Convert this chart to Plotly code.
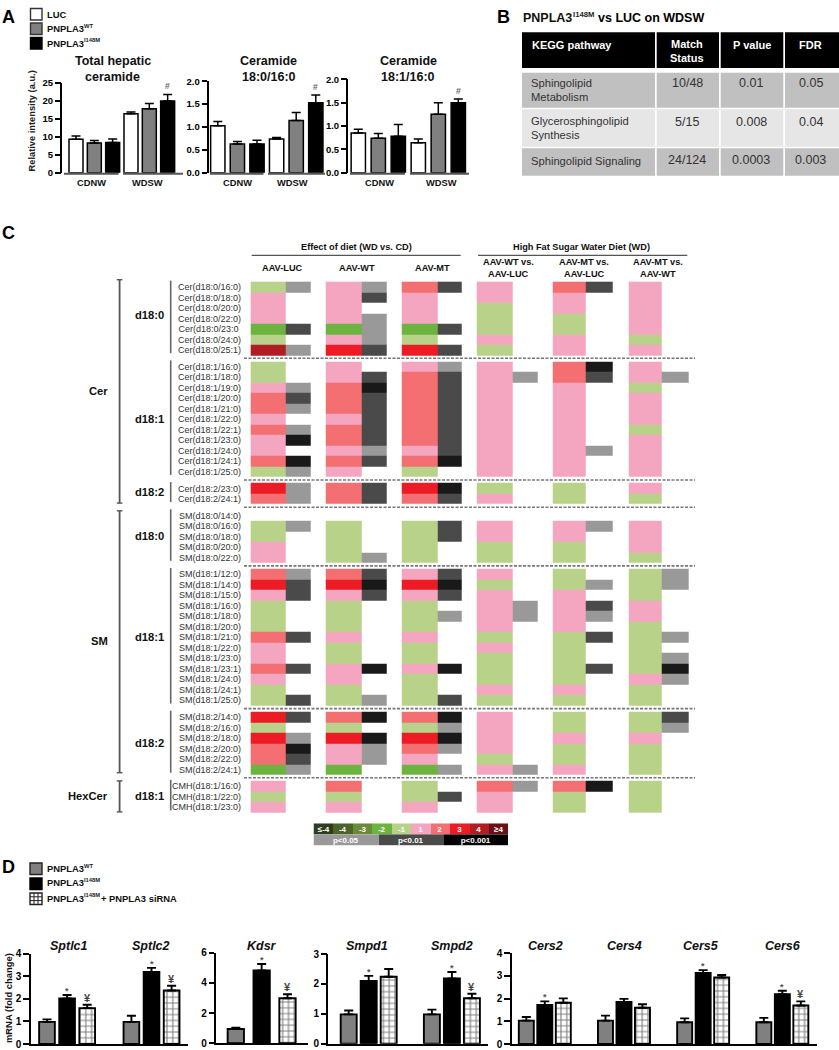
import plotly.graph_objects as go

W, H = 839, 1050
FONT = "Liberation Sans"

# ---------- Panel A data ----------
A_TITLES = [["Total hepatic", "ceramide"], ["Ceramide", "18:0/16:0"], ["Ceramide", "18:1/16:0"]]
A_GROUPS = ["CDNW", "WDSW"]
total_vals = [9.3, 8.3, 8.4, 16.4, 17.8, 20.0]
total_errs = [0.9, 0.7, 1.0, 0.5, 1.5, 1.8]
c160_vals = [1.03, 0.63, 0.63, 0.74, 1.14, 1.53]
c160_errs = [0.09, 0.05, 0.08, 0.03, 0.18, 0.17]
c161_vals = [0.85, 0.74, 0.78, 0.64, 1.25, 1.50]
c161_errs = [0.08, 0.10, 0.25, 0.08, 0.25, 0.08]

# ---------- Panel B data ----------
B_HEAD = ["KEGG pathway", "Match|Status", "P value", "FDR"]
B_PATHWAYS = ["Sphingolipid|Metabolism", "Glycerosphingolipid|Synthesis", "Sphingolipid Signaling"]
B_MATCH = ["10/48", "5/15", "24/124"]
B_P = ["0.01", "0.008", "0.0003"]
B_FDR = ["0.05", "0.04", "0.003"]

# ---------- Panel C data ----------
cer180 = ["16:0", "18:0", "20:0", "22:0", "23:0", "24:0", "25:1"]
cer181 = ["16:0", "18:0", "19:0", "20:0", "21:0", "22:0", "22:1", "23:0", "24:0", "24:1", "25:0"]
cer182 = ["23:0", "24:1"]
sm180 = ["14:0", "16:0", "18:0", "20:0", "22:0"]
sm181 = ["12:0", "14:0", "15:0", "16:0", "18:0", "20:0", "21:0", "22:0", "23:0", "23:1", "24:0", "24:1", "25:0"]
sm182 = ["14:0", "16:0", "18:0", "20:0", "22:0", "24:1"]
cmh181 = ["16:0", "22:0", "23:0"]
C_GROUPS = [("Cer", "d18:0", cer180), ("Cer", "d18:1", cer181), ("Cer", "d18:2", cer182),
            ("SM", "d18:0", sm180), ("SM", "d18:1", sm181), ("SM", "d18:2", sm182),
            ("CMH", "d18:1", cmh181)]
# effect codes -5..5 (0 = no data), significance 0 none, 1 p<0.05, 2 p<0.01, 3 p<0.001
luc_effect = [-1,1,1,1,-2,-1,4, -1,-1,1,2,2,1,2,1,1,2,-1, 3,2, 0,-1,-1,1,1,
              2,3,1,-1,-1,-1,2,1,1,2,1,-1,-1, 3,-1,3,2,2,-2, 1,-1,1]
luc_sig = [1,0,0,0,2,0,1, 0,0,1,2,1,0,1,3,0,3,1, 1,1, 0,1,0,0,0,
           1,2,2,0,0,0,2,0,0,2,0,0,2, 2,0,1,3,2,1, 0,0,0]
wt_effect = [1,1,1,1,-2,1,3, 1,1,2,2,2,1,2,2,1,2,1, 2,2, 0,-1,-1,-1,-1,
             2,3,1,-1,-1,-1,1,-1,-1,1,1,-1,-1, 2,-1,3,1,1,-2, 2,-1,1]
wt_sig = [1,2,0,1,1,1,2, 0,2,3,2,2,2,2,2,1,2,0, 2,2, 0,0,0,0,1,
          2,3,2,0,0,0,0,0,0,3,0,0,1, 3,0,3,1,1,0, 0,0,0]
mt_effect = [2,1,1,1,-2,-1,3, 1,2,2,2,2,2,2,2,1,2,-1, 3,2, 0,-1,-1,-1,-1,
             1,3,1,-1,-1,-1,1,-1,-1,1,-1,-1,-1, 2,-1,3,2,1,-2, -1,-1,1]
mt_sig = [2,0,0,0,2,0,2, 1,2,2,2,2,2,2,2,2,3,0, 3,2, 0,2,2,0,0,
          2,3,2,0,1,0,0,0,0,3,0,0,2, 3,1,3,1,0,1, 0,2,0]
wtluc_effect = [1,1,-1,-1,-1,1,-1, 1,1,1,1,1,1,1,1,1,1,1, -1,1, 0,1,1,-1,-1,
                1,-1,1,1,1,1,-1,1,-1,-1,-1,1,-1, 1,1,1,1,-1,1, 2,1,1]
wtluc_sig = [0,0,0,0,0,0,0, 0,1,0,0,0,0,0,0,0,0,0, 0,0, 0,0,0,0,0,
             0,0,0,1,1,0,0,0,0,0,0,0,0, 0,0,0,0,0,1, 1,0,0]
mtluc_effect = [2,1,1,-1,-1,1,1, 2,2,1,1,1,1,1,1,1,1,1, -1,-1, 0,1,1,-1,-1,
                -1,-1,1,1,1,1,-1,-1,-1,-1,-1,1,-1, -1,-1,1,-1,-1,1, 2,-1,-1]
mtluc_sig = [2,0,0,0,0,0,0, 3,2,0,0,0,0,0,0,1,0,0, 0,0, 0,1,0,0,0,
             0,1,0,2,1,0,2,0,0,2,0,0,0, 0,0,0,0,0,0, 3,0,0]
mtwt_effect = [1,1,1,1,1,-1,1, 1,1,-1,1,1,1,-1,1,1,1,1, 1,-1, 0,1,1,1,-1,
               -1,-1,-1,1,1,-1,-1,-1,-1,-1,1,-1,-1, -1,-1,1,-1,-1,-1, -1,-1,-1]
mtwt_sig = [0,0,0,0,0,0,0, 0,1,0,0,0,0,0,0,0,0,0, 0,0, 0,0,0,0,0,
            1,1,0,0,0,0,1,0,1,3,1,0,0, 2,1,0,0,0,0, 0,0,0]
C_BLOCKS = [(luc_effect, luc_sig), (wt_effect, wt_sig), (mt_effect, mt_sig),
            (wtluc_effect, wtluc_sig), (mtluc_effect, mtluc_sig), (mtwt_effect, mtwt_sig)]
EFFECT_LABELS = ["\u2264-4", "-4", "-3", "-2", "-1", "1", "2", "3", "4", "\u22654"]
EFFECT_CODES = [-5, -4, -3, -2, -1, 1, 2, 3, 4, 5]
SIG_LABELS = ["p<0.05", "p<0.01", "p<0.001"]

# ---------- Panel D data ----------
sptlc1_vals = [0.98, 2.02, 1.59]; sptlc1_errs = [0.11, 0.15, 0.15]
sptlc2_vals = [0.98, 3.19, 2.37]; sptlc2_errs = [0.27, 0.18, 0.21]
kdsr_vals = [0.95, 4.83, 2.98]; kdsr_errs = [0.08, 0.42, 0.27]
smpd1_vals = [0.98, 2.10, 2.24]; smpd1_errs = [0.13, 0.17, 0.26]
smpd2_vals = [0.98, 2.18, 1.52]; smpd2_errs = [0.16, 0.22, 0.15]
cers2_vals = [1.03, 1.72, 1.82]; cers2_errs = [0.16, 0.16, 0.19]
cers4_vals = [1.03, 1.85, 1.60]; cers4_errs = [0.22, 0.14, 0.15]
cers5_vals = [0.96, 3.13, 2.93]; cers5_errs = [0.17, 0.13, 0.11]
cers6_vals = [0.96, 2.20, 1.70]; cers6_errs = [0.19, 0.15, 0.18]

# ---------- styling / layout constants ----------
BLACK, GREY = "#000000", "#808080"
CELL = {-5: "#2e3d1d", -4: "#4b6429", -3: "#6a8a37", -2: "#6db33f", -1: "#b9d28a",
        1: "#f4a6c0", 2: "#f36f72", 3: "#ed1c24", 4: "#b01e23", 5: "#6a1014"}
SIG = {1: "#999999", 2: "#4a4a4a", 3: "#191919"}

fig = go.Figure()
annots, shapes, layout_axes = [], [], {}
axis_n = [0]


def fx(px):
    return px / W


def fy(py):
    return 1 - py / H


def txt(x, y, text, size=9, bold=False, italic=False, anchor="center", color="#111111", angle=0):
    if italic:
        text = f"<i>{text}</i>"
    if bold:
        text = f"<b>{text}</b>"
    annots.append(dict(x=fx(x), y=fy(y), xref="paper", yref="paper", text=text, showarrow=False,
                       xanchor=anchor, yanchor="middle", textangle=angle, borderpad=0, borderwidth=0,
                       font=dict(family=FONT, size=size, color=color)))


def sup_label(x, y, sup, size=9.4, sup_size=5.8, raise_px=2.8, sup_em=2.78):
    """Bold PNPLA3 followed by its small raised allele tag; returns the x where the tag ends."""
    txt(x, y, "PNPLA3", size, True, anchor="left")
    x_sup = x + 3.945 * size
    txt(x_sup, y - raise_px, sup, sup_size, True, anchor="left", color="#222222")
    return x_sup + sup_em * sup_size


def line(x0, y0, x1, y1, color="#555555", width=1.5, dash=None):
    shapes.append(dict(type="line", xref="paper", yref="paper", x0=fx(x0), x1=fx(x1), y0=fy(y0), y1=fy(y1),
                       line=dict(color=color, width=width, dash=dash or "solid")))


def rect(x0, y0, x1, y1, fill, lc=None, lw=0):
    shapes.append(dict(type="rect", xref="paper", yref="paper", x0=fx(x0), x1=fx(x1), y0=fy(y0), y1=fy(y1),
                       fillcolor=fill, line=dict(color=lc or fill, width=lw)))


def new_axes(left, right, top, bottom):
    axis_n[0] += 1
    n = axis_n[0]
    sx = "" if n == 1 else str(n)
    layout_axes[f"xaxis{sx}"] = dict(domain=[fx(left), fx(right)], anchor=f"y{sx}")
    layout_axes[f"yaxis{sx}"] = dict(domain=[fy(bottom), fy(top)], anchor=f"x{sx}")
    return f"x{sx}", f"y{sx}", f"xaxis{sx}", f"yaxis{sx}"


def bar_chart(left, right, top, bottom, c0, step, bar_w, xs, vals, errs, fills, ymax, yticks, tickfmt,
              marks, mark_y, lw, xline=True, tick_size=9.5):
    xa, ya, xk, yk = new_axes(left, right, top, bottom)
    for fill in dict.fromkeys(fills):
        idx = [i for i, f in enumerate(fills) if f == fill]
        marker = dict(line=dict(color=BLACK, width=lw))
        if fill == "hatch":
            marker.update(color="white", pattern=dict(shape="+", fgcolor=BLACK, bgcolor="white", size=5.8, solidity=0.35))
        else:
            marker["color"] = fill
        fig.add_trace(go.Bar(x=[xs[i] for i in idx], y=[vals[i] for i in idx], xaxis=xa, yaxis=ya,
                             width=bar_w / step, marker=marker, hoverinfo="skip", showlegend=False,
                             error_y=dict(type="data", symmetric=False, array=[errs[i] for i in idx],
                                          arrayminus=[0] * len(idx), color=BLACK, thickness=lw, width=4.5)))
    layout_axes[xk].update(range=[(left - c0) / step, (right - c0) / step], showgrid=False, zeroline=False,
                           showticklabels=False, ticks="", showline=xline, linecolor=BLACK, linewidth=2)
    layout_axes[yk].update(range=[0, ymax], tickvals=yticks, tickformat=tickfmt, showgrid=False, zeroline=False,
                           showline=True, linecolor=BLACK, linewidth=1.6, ticks="outside", ticklen=5.5, tickwidth=1.6,
                           tickcolor=BLACK,
                           tickfont=dict(family=FONT, size=tick_size, color=BLACK, weight=700))
    for i, m in enumerate(marks):
        if m:
            shift, size, col = mark_y[m]
            annots.append(dict(x=xs[i], y=vals[i] + errs[i], xref=xa, yref=ya, text=f"<b>{m}</b>", showarrow=False,
                               xanchor="center", yanchor="middle", yshift=shift,
                               font=dict(family=FONT, size=size, color=col)))
    return xa, ya


# ---------- Panel labels ----------
txt(8, 17, "A", 18, True, color=BLACK)
txt(503, 17, "B", 18, True, color=BLACK)
txt(8, 233, "C", 18, True, color=BLACK)
txt(8, 867, "D", 18, True, color=BLACK)

# ---------- Panel A ----------
rect(30.5, 8.5, 42, 20, "white", "#333333", 1.4)
rect(30.5, 23, 42, 34.5, GREY, "#333333", 1.4)
rect(30.5, 37.5, 42, 49, BLACK, BLACK, 1.4)
txt(47, 14.5, "LUC", 9.4, True, anchor="left")
sup_label(47, 28.5, "WT", sup_em=1.56)
sup_label(47, 43, "I148M")
A_FILLS = ["white", GREY, BLACK, "white", GREY, BLACK]
A_X = [0, 1, 2, 3, 4, 5]
A_MARKS = ["", "", "", "", "", "#"]
A_SPEC = [
    (62.3, 183, 83, 76, 18.33, 14, total_vals, total_errs, 25, [0, 5, 10, 15, 20, 25], "d", 112.7,
     (64, 118.5), (123, 183), (91, 147)),
    (209, 325, 81.3, 217.8, 19.6, 14.3, c160_vals, c160_errs, 2.0, [0, 0.5, 1.0, 1.5, 2.0], ".1f", 268.7,
     (210, 263.5), (268, 325), (237, 292.3)),
    (348.3, 469, 79.3, 358.3, 20, 14.3, c161_vals, c161_errs, 2.0, [0, 0.5, 1.0, 1.5, 2.0], ".1f", 408,
     (350, 405), (410, 469), (379, 441.7)),
]
for i, (l, r, t, c0, st, bw, v, e, ymax, ticks, fmt, tc, u1, u2, lab) in enumerate(A_SPEC):
    bar_chart(l, r, t, 172.7, c0, st, bw, A_X, v, e, A_FILLS, ymax, ticks, fmt, A_MARKS,
              {"#": (8, 8.5, "#666666")}, 1.5, xline=False, tick_size=9.5)
    line(u1[0], 173.7, u1[1], 173.7, "#555555", 2)
    line(u2[0], 173.7, u2[1], 173.7, "#555555", 2)
    txt(lab[0], 183, A_GROUPS[0], 9.3, True)
    txt(lab[1], 183, A_GROUPS[1], 9.3, True)
    txt(tc, 61, A_TITLES[i][0], 12.5, True)
    txt(tc, 76.7, A_TITLES[i][1], 12.5, True)
txt(32, 121.5, "Relative intensity (a.u.)", 9.3, True, angle=-90, color="#222222")

# ---------- Panel B ----------
end = sup_label(523.3, 17.7, "I148M", size=12.5, sup_size=7.7, raise_px=3.5)
txt(end + 4, 17.7, "vs LUC on WDSW", 12.5, True, anchor="left", color=BLACK)
B_COLS = [(522, 655), (656.7, 719), (720.7, 783.3), (785, 839)]
B_ROWS = [(72.7, 107.7), (109.3, 146.7), (148.3, 175.7)]
B_FILL = ["#c0c0c0", "#e6e6e6", "#c0c0c0"]
for c0_, c1_ in B_COLS:
    rect(c0_, 32.3, c1_, 68, BLACK)
    for (r0, r1), f in zip(B_ROWS, B_FILL):
        rect(c0_, r0, c1_, r1, f)
txt(532.3, 44.5, B_HEAD[0], 11, True, anchor="left", color="white")
for j, y in enumerate([44.3, 57.7]):
    txt(687.3, y, B_HEAD[1].split("|")[j], 11, True, color="white")
txt(752, 44.5, B_HEAD[2], 11, True, color="white")
txt(810.7, 44.5, B_HEAD[3], 11, True, color="white")
B_TEXT_Y = [(83.3, 97), (121, 134.7), (161,)]
for name, ys in zip(B_PATHWAYS, B_TEXT_Y):
    for part, y in zip(name.split("|"), ys):
        txt(531, y, part, 11.2, anchor="left", color="#333333")
for k, y in enumerate([83.3, 121.7, 160.3]):
    txt(687.3, y, B_MATCH[k], 12.5, color="#333333")
    txt(751, y, B_P[k], 12.5, color="#333333")
    txt(810.7, y, B_FDR[k], 12.5, color="#333333")

# ---------- Panel C ----------
ROW_H, GAP, Y0 = 10.5, 6.2, 281.7
BLOCK_EDGES = [(250.7, 286, 310.7), (326, 362, 386.3), (401.7, 437.3, 461.7),
               (477, 513, 537.3), (552.7, 586, 613), (628.3, 661.3, 688.7)]
x_edges = [e for b in BLOCK_EDGES for e in b]
palette = [CELL[k] for k in EFFECT_CODES] + [SIG[1], SIG[2], SIG[3]]
n_col = len(palette)
scale = []
for i, col in enumerate(palette):
    scale += [[i / n_col, col], [(i + 1) / n_col, col]]


def eff_idx(v):
    return None if v == 0 else EFFECT_CODES.index(v) + 0.5


def sig_idx(v):
    return None if v == 0 else 10 + v - 1 + 0.5


y_edges, z_rows, tick_y, tick_text, gap_centres, group_spans = [Y0], [], [], [], [], []
cursor, row_i = Y0, 0
for g_i, (cls, base, species) in enumerate(C_GROUPS):
    g_start = cursor
    for sp in species:
        row = []
        for b_i, (eff, sig) in enumerate(C_BLOCKS):
            row += [eff_idx(eff[row_i]), sig_idx(sig[row_i])]
            if b_i < len(C_BLOCKS) - 1:
                row.append(None)
        z_rows.append(row)
        tick_y.append(cursor + ROW_H / 2)
        label = f"{cls}({base}/{sp})"
        if label == "Cer(d18:0/23:0)":
            label = "Cer(d18:0/23:0\u00a0"
        tick_text.append(label)
        cursor += ROW_H
        y_edges.append(cursor)
        row_i += 1
    group_spans.append((g_start, cursor))
    if g_i < len(C_GROUPS) - 1:
        z_rows.append([None] * (len(x_edges) - 1))
        gap_centres.append(cursor + GAP / 2)
        cursor += GAP
        y_edges.append(cursor)

xa, ya, xk, yk = new_axes(244, 695, 278, 815)
fig.add_trace(go.Heatmap(x=x_edges, y=y_edges, z=z_rows, xaxis=xa, yaxis=ya, zmin=0, zmax=n_col, colorscale=scale,
                         showscale=False, hoverinfo="skip", hoverongaps=False))
layout_axes[xk].update(range=[244, 695], visible=False)
layout_axes[yk].update(range=[815, 278], showgrid=False, zeroline=False, showline=False, ticks="",
                       tickvals=tick_y, ticktext=tick_text, ticklabelstandoff=2,
                       tickfont=dict(family=FONT, size=9, color="#333333"))
for y in gap_centres:
    shapes.append(dict(type="line", xref="x" + xa[1:], yref="y" + ya[1:], x0=244, x1=695, y0=y, y1=y,
                       line=dict(color="#777777", width=1.6, dash="3px,1.5px")))

# brackets and group labels
GROUP_LABEL_SHIFT = [-3, 0, -1, 0, 0, 0, 0]
for (g0, g1), (_, base, _), dy in zip(group_spans, C_GROUPS, GROUP_LABEL_SHIFT):
    line(170.7, g0 - 1, 170.7, g1 - 2, "#666666", 1.6)
    txt(149.5, (g0 + g1) / 2 - 0.5 + dy, base, 11.2, True, color="#111111")
CLASS_SPANS = [("Cer", group_spans[0][0] - 2, group_spans[2][1] - 1),
               ("SM", group_spans[3][0] + 0.5, group_spans[5][1] - 2),
               ("HexCer", group_spans[6][0], group_spans[6][1] - 0.5)]
for name, a, b in CLASS_SPANS:
    line(119.6, a, 119.6, b, "#555555", 1.8)
    line(116.8, a, 122.4, a, "#555555", 1.4)
    line(116.8, b, 122.4, b, "#555555", 1.4)
    txt(108, (a + b) / 2 - 0.5, name, 11.2, True, anchor="right")

txt(356, 247, "Effect of diet (WD vs. CD)", 9.2, True)
txt(581.7, 247, "High Fat Sugar Water Diet (WD)", 9.2, True)
line(251.7, 255.3, 460.7, 255.3, "#555555", 1.2)
line(478, 255.3, 687.3, 255.3, "#555555", 1.2)
for x, lab in zip([282.7, 357, 432.7], ["AAV-LUC", "AAV-WT", "AAV-MT"]):
    txt(x, 268, lab, 9.2, True)
for x, l1, l2 in [(508, "AAV-WT vs.", "AAV-LUC"), (584, "AAV-MT vs.", "AAV-LUC"), (658, "AAV-MT vs.", "AAV-WT")]:
    txt(x, 262.3, l1, 9.2, True)
    txt(x, 273.7, l2, 9.2, True)

# colour key
xa, ya, xk, yk = new_axes(313.5, 508, 823.3, 845.5)
key_cols = list(range(11))
fig.add_trace(go.Heatmap(x=key_cols, y=[1, 2], z=[[i + 0.5 for i in range(10)]], xaxis=xa, yaxis=ya, zmin=0, zmax=n_col,
                         colorscale=scale, showscale=False, hoverinfo="skip", text=[EFFECT_LABELS],
                         texttemplate="<b>%{text}</b>", textfont=dict(family=FONT, size=8, color="white")))
fig.add_trace(go.Heatmap(x=[0, 10 / 3, 20 / 3, 10], y=[0, 1], z=[[0, 1, 2]], xaxis=xa, yaxis=ya, zmin=0,
                         zmax=2, colorscale=[[0, "#999999"], [0.5, "#4a4a4a"], [1, "#000000"]],
                         showscale=False, hoverinfo="skip", text=[SIG_LABELS], texttemplate="<b>%{text}</b>",
                         textfont=dict(family=FONT, size=8, color="white")))
layout_axes[xk].update(range=[0, 10], visible=False)
layout_axes[yk].update(range=[0, 2], visible=False)

# ---------- Panel D ----------
rect(30, 863, 42, 874.5, GREY, "#222222", 1.4)
rect(30, 878, 42, 889.5, BLACK, BLACK, 1.4)
rect(30, 893, 42, 904.5, "white", "#222222", 1.4)
for x in [34, 38]:
    line(x, 893, x, 904.5, "#222222", 1)
for y in [896.8, 900.6]:
    line(30, y, 42, y, "#222222", 1)
sup_label(46.7, 868.5, "WT", sup_em=1.56)
sup_label(46.7, 882.7, "I148M")
end = sup_label(46.7, 898, "I148M")
txt(end + 1.5, 898, "+ PNPLA3 siRNA", 9.4, True, anchor="left")
txt(8, 998, "mRNA (fold change)", 9.4, True, angle=-90)

D_FILLS = [GREY, BLACK, "hatch"]
M = {"*": (4, 9, "#555555"), "\u00a5": (7, 11, "#444444")}
D_SPEC = [
    (30.7, 188.3, 953.7, 1044, 47, 20.1, 15.7, [0, 1, 2, 4.2, 5.2, 6.2], sptlc1_vals + sptlc2_vals,
     sptlc1_errs + sptlc2_errs, 4, [0, 1, 2, 3, 4], ["", "*", "\u00a5", "", "*", "\u00a5"],
     [("Sptlc1", 68.7), ("Sptlc2", 150.7)]),
    (216, 308, 952.7, 1043.3, 235.8, 25.85, 16.3, [0, 1, 2], kdsr_vals, kdsr_errs, 6, [0, 2, 4, 6],
     ["", "*", "\u00a5"], [("Kdsr", 262)]),
    (328.3, 488.3, 954, 1043.7, 348.7, 20, 16, [0, 1, 2, 4.16, 5.16, 6.16], smpd1_vals + smpd2_vals,
     smpd1_errs + smpd2_errs, 3, [0, 1, 2, 3], ["", "*", "", "", "*", "\u00a5"],
     [("Smpd1", 367.3), ("Smpd2", 451.7)]),
    (511.7, 816.7, 953.3, 1044, 526.3, 18.5, 15, [0, 1, 2, 4.28, 5.28, 6.28, 8.56, 9.56, 10.56, 12.84, 13.84, 14.84],
     cers2_vals + cers4_vals + cers5_vals + cers6_vals, cers2_errs + cers4_errs + cers5_errs + cers6_errs, 4,
     [0, 1, 2, 3, 4], ["", "*", "", "", "", "", "", "*", "", "", "*", "\u00a5"],
     [("Cers2", 545), ("Cers4", 624.7), ("Cers5", 701), ("Cers6", 783.3)]),
]
for l, r, t, b, c0, st, bw, xs, v, e, ymax, ticks, marks, titles in D_SPEC:
    n = len(xs)
    bar_chart(l, r, t, b, c0, st, bw, xs, v, e, [D_FILLS[i % 3] for i in range(n)], ymax, ticks, "d", marks, M, 1.9,
              xline=True, tick_size=10)
    for name, x in titles:
        txt(x, 945.7, name, 12.5, True, True)

fig.update_layout(width=W, height=H, autosize=False, margin=dict(l=0, r=0, t=0, b=0, autoexpand=False),
                  paper_bgcolor="white", plot_bgcolor="rgba(0,0,0,0)", showlegend=False, barmode="overlay",
                  annotations=annots, shapes=shapes, font=dict(family=FONT), **layout_axes)
fig.write_html("out.html", config={"displayModeBar": False},
               post_script="document.body.style.margin='0';")
